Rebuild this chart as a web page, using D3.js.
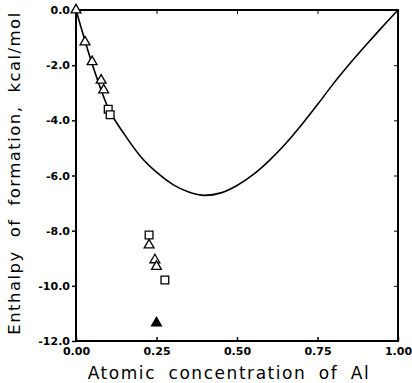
<!DOCTYPE html>
<html><head><meta charset="utf-8">
<script src="https://cdn.jsdelivr.net/npm/d3@7"></script>
<style>body{margin:0;background:#fff}</style>
</head><body>
<svg id="c" width="412" height="383"></svg>
<script>
const curveX = [0, 0.05, 0.10, 0.15, 0.20, 0.25, 0.30, 0.35, 0.40, 0.45, 0.50, 0.55, 0.60, 0.65, 0.70, 0.75, 0.80, 0.85, 0.90, 0.95, 1.0];
const curveY = [0, -1.95, -3.55, -4.5, -5.3, -5.88, -6.32, -6.6, -6.72, -6.63, -6.36, -5.97, -5.46, -4.86, -4.17, -3.43, -2.66, -1.95, -1.28, -0.63, 0];
const triX = [0, 0.028, 0.05, 0.078, 0.086, 0.227, 0.245, 0.25];
const triY = [0, -1.16, -1.88, -2.55, -2.9, -8.52, -9.06, -9.3];
const sqX = [0.1, 0.106, 0.227, 0.276];
const sqY = [-3.6, -3.8, -8.16, -9.79];
const filledX = [0.25];
const filledY = [-11.35];
const xTicks = [0, 0.25, 0.5, 0.75, 1.0];
const xTickLabels = ["0.00", "0.25", "0.50", "0.75", "1.00"];
const yTicks = [0, -2, -4, -6, -8, -10, -12];
const yTickLabels = ["0.0", "-2.0", "-4.0", "-6.0", "-8.0", "-10.0", "-12.0"];
const xTitle = "Atomic concentration of Al";
const yTitle = "Enthalpy of formation, kcal/mol";

const svg = d3.select("#c");
const L = 76, R = 398, T = 10, B = 341;
const x = d3.scaleLinear().domain([0, 1]).range([L, R]);
const y = d3.scaleLinear().domain([0, -12]).range([T, B]);
const font = "'DejaVu Sans', sans-serif";

// curve
const line = d3.line().x(d => x(d[0])).y(d => y(d[1])).curve(d3.curveMonotoneX);
svg.append("path").datum(curveX.map((v, i) => [v, curveY[i]]))
  .attr("d", line).attr("fill", "none").attr("stroke", "#000").attr("stroke-width", 1.6);

// frame
svg.append("rect").attr("x", L).attr("y", T).attr("width", R - L).attr("height", B - T)
  .attr("fill", "none").attr("stroke", "#000").attr("stroke-width", 2);

// left axis (outward ticks)
const gl = svg.append("g").attr("transform", `translate(${L},0)`)
  .call(d3.axisLeft(y).tickValues(yTicks).tickFormat((d, i) => yTickLabels[i]).tickSize(4).tickPadding(2));
gl.select(".domain").remove();
gl.selectAll("line").attr("stroke-width", 1.5);
gl.selectAll("text").attr("font-family", font).attr("font-weight", "bold").attr("font-size", 11).attr("fill", "#000");

// bottom axis (inward ticks)
const gb = svg.append("g").attr("transform", `translate(0,${B})`)
  .call(d3.axisBottom(x).tickValues(xTicks).tickFormat((d, i) => xTickLabels[i]).tickSizeInner(-4).tickSizeOuter(0).tickPadding(6));
gb.select(".domain").remove();
gb.selectAll("line").attr("stroke-width", 1.5);
gb.selectAll("text").attr("font-family", font).attr("font-weight", "bold").attr("font-size", 11).attr("fill", "#000");

// top & right inward ticks
const gt = svg.append("g").attr("transform", `translate(0,${T})`)
  .call(d3.axisTop(x).tickValues(xTicks.slice(1, -1)).tickSizeInner(-4).tickSizeOuter(0).tickFormat(""));
gt.select(".domain").remove();
const gr = svg.append("g").attr("transform", `translate(${R},0)`)
  .call(d3.axisRight(y).tickValues(yTicks.slice(1, -1)).tickSizeInner(-4).tickSizeOuter(0).tickFormat(""));
gr.select(".domain").remove();

// markers
const tri = d3.symbol().type(d3.symbolTriangle).size(42);
const sq = d3.symbol().type(d3.symbolSquare).size(60);
svg.append("g").selectAll("path").data(triX.map((v, i) => [v, triY[i]])).join("path")
  .attr("d", tri).attr("transform", d => `translate(${x(d[0])},${y(d[1])})`)
  .attr("fill", "#fff").attr("stroke", "#000").attr("stroke-width", 1.3);
svg.append("g").selectAll("path").data(sqX.map((v, i) => [v, sqY[i]])).join("path")
  .attr("d", sq).attr("transform", d => `translate(${x(d[0])},${y(d[1])})`)
  .attr("fill", "#fff").attr("stroke", "#000").attr("stroke-width", 1.3);
svg.append("g").selectAll("path").data(filledX.map((v, i) => [v, filledY[i]])).join("path")
  .attr("d", tri).attr("transform", d => `translate(${x(d[0])},${y(d[1])})`)
  .attr("fill", "#000").attr("stroke", "#000").attr("stroke-width", 1.3);

// titles
function fit(t, w) {
  const s = t.text();
  const len = t.node().getComputedTextLength();
  const extra = Math.max(0, w - len);
  // a bit of extra gap between words, the rest spread over letters
  const words = s.split(" ").length - 1;
  const ws = extra * 0.3 / words;
  const ls = extra * 0.7 / (s.length - 1);
  t.attr("word-spacing", ws).attr("letter-spacing", ls);
}
const xt = svg.append("text").attr("x", 229).attr("y", 379).attr("text-anchor", "middle")
  .attr("font-family", font).attr("font-size", 17).attr("fill", "#000").text(xTitle);
fit(xt, 281);
const yt = svg.append("text").attr("transform", "translate(20,173) rotate(-90)").attr("text-anchor", "middle")
  .attr("font-family", font).attr("font-size", 16.5).attr("fill", "#000").text(yTitle);
fit(yt, 322);
</script>
</body></html>
